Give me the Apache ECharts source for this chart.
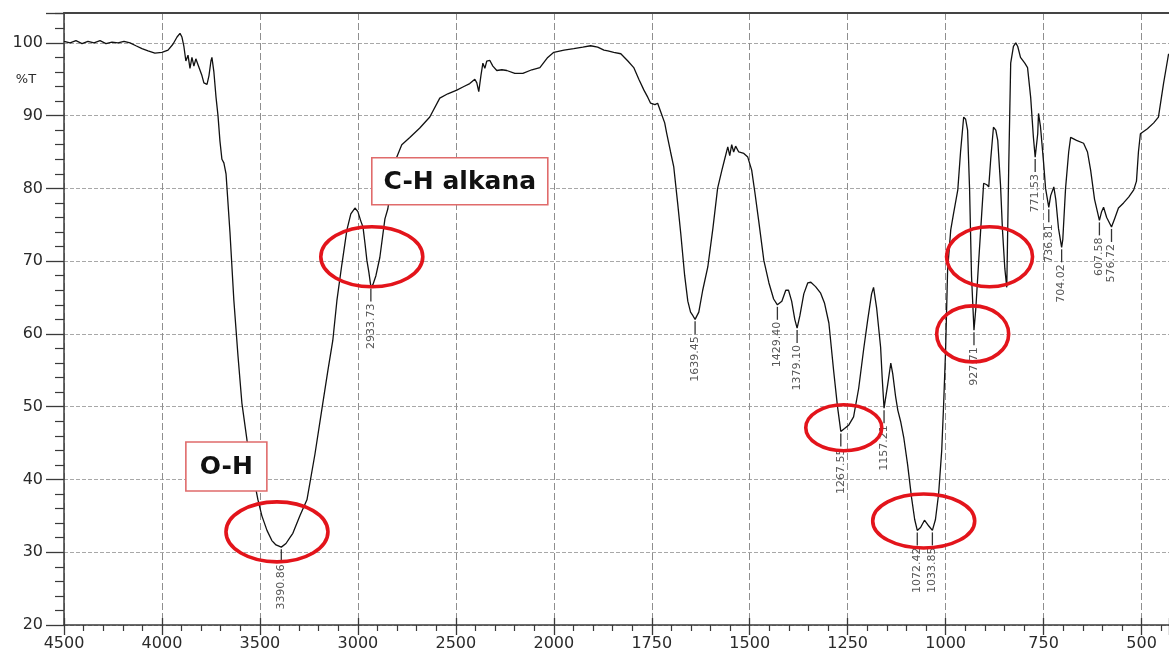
<!DOCTYPE html>
<html>
<head>
<meta charset="utf-8">
<script src="https://cdn.jsdelivr.net/npm/echarts@6/dist/echarts.min.js"></script>
<style>
  html, body { margin: 0; padding: 0; background: #fff; }
  #chart { width: 1169px; height: 653px; }
</style>
</head>
<body>
<div id="chart"></div>
<script>
// FTIR spectrum: wavenumber (cm-1) and transmittance (%T)
const wavenumbers = [
  4500, 4469, 4439, 4408, 4378, 4347, 4316, 4286, 4255, 4224, 4194, 4163, 4133, 4102, 4071, 4036,
  4000, 3969, 3944, 3923, 3908, 3898, 3888, 3878, 3867, 3857, 3847, 3837, 3827, 3816, 3806, 3796,
  3786, 3770, 3760, 3750, 3745, 3735, 3724, 3714, 3704, 3694, 3684, 3673, 3653, 3633, 3612, 3592,
  3566, 3541, 3510, 3490, 3464, 3439, 3418, 3390.86, 3367, 3347, 3332, 3296, 3260, 3219, 3179, 3153,
  3128, 3107, 3082, 3056, 3036, 3015, 3000, 2985, 2974, 2964, 2954, 2944, 2933.73, 2923, 2908, 2888,
  2862, 2847, 2827, 2806, 2776, 2735, 2684, 2633, 2582, 2541, 2495, 2459, 2429, 2403, 2393, 2383,
  2378, 2372, 2362, 2352, 2342, 2327, 2311, 2291, 2265, 2240, 2199, 2158, 2112, 2071, 2031, 2000,
  1974, 1949, 1926, 1906, 1888, 1872, 1862, 1847, 1829, 1811, 1796, 1783, 1770, 1760, 1753, 1742,
  1735, 1727, 1717, 1712, 1702, 1694, 1684, 1676, 1666, 1658, 1651, 1645, 1639.45, 1630, 1620, 1607,
  1594, 1582, 1571, 1564, 1556, 1551, 1546, 1541, 1536, 1528, 1515, 1505, 1495, 1487, 1477, 1464,
  1451, 1439, 1429.40, 1418, 1408, 1401, 1393, 1385, 1379.10, 1372, 1362, 1352, 1344, 1332, 1319, 1309,
  1298, 1286, 1276, 1267.55, 1258, 1247, 1235, 1222, 1209, 1199, 1189, 1184, 1176, 1166, 1162, 1157.21,
  1148, 1140, 1135, 1128, 1122, 1115, 1107, 1097, 1087, 1079, 1072.42, 1064, 1054, 1043, 1033.85, 1026,
  1018, 1010, 1005, 1000, 995, 987, 980, 969, 962, 954, 949, 944, 939, 934, 927.71, 923,
  916, 908, 903, 895, 890, 885, 878, 872, 867, 860, 855, 849, 844, 839, 834, 827,
  821, 816, 809, 798, 791, 783, 776, 771.53, 765, 763, 758, 750, 745, 736.81, 732, 724,
  719, 712, 704.02, 701, 694, 686, 681, 666, 648, 638, 630, 620, 607.58, 602, 597, 589,
  576.72, 569, 559, 546, 533, 520, 513, 508, 503, 485, 469, 457, 444, 431
];
const transmittance = [
  100.2, 100.0, 100.3, 99.9, 100.2, 100.0, 100.3, 99.9, 100.1, 100.0, 100.2, 100.0, 99.6, 99.2, 98.9, 98.6,
  98.7, 99.0, 99.8, 100.8, 101.3, 100.8, 99.5, 97.5, 98.3, 96.5, 98.0, 96.8, 97.8, 97.0, 96.8, 95.5,
  94.5, 94.3, 95.5, 97.5, 98.0, 96.0, 92.5, 90.0, 86.5, 84.0, 83.5, 82.0, 74.0, 64.6, 57.0, 50.5,
  45.4, 41.5, 37.2, 35.0, 33.0, 31.6, 31.0, 30.7, 31.2, 32.0, 32.6, 35.0, 37.2, 43.5, 50.5, 55.0,
  59.1, 64.6, 69.5, 74.3, 76.5, 77.3, 76.8, 75.5, 74.7, 72.5, 70.1, 68.5, 66.5, 66.8, 68.0, 70.5,
  75.8, 77.2, 81.0, 84.0, 86.0, 87.0, 88.3, 89.8, 92.4, 93.0, 93.5, 94.0, 94.4, 95.0, 94.5, 93.3,
  93.5, 95.5, 97.2, 96.5, 97.5, 97.6, 96.8, 96.2, 96.3, 96.2, 95.8, 95.8, 96.3, 96.6, 98.0, 98.7,
  99.0, 99.2, 99.4, 99.6, 99.4, 99.0, 98.9, 98.7, 98.5, 97.5, 96.6, 95.0, 93.5, 92.5, 91.7, 91.5,
  91.7, 90.5, 89.0, 87.6, 85.0, 83.0, 78.0, 73.8, 68.0, 64.5, 63.0, 62.5, 62.0, 63.0, 66.0, 69.2,
  74.5, 80.0, 82.5, 84.0, 85.7, 84.5, 86.0, 85.0, 85.8, 85.0, 84.8, 84.3, 82.5, 79.5, 75.5, 70.1,
  67.0, 64.8, 64.0, 64.5, 66.0, 66.0, 64.5, 62.0, 60.8, 62.5, 65.5, 67.0, 67.1, 66.5, 65.6, 64.2,
  61.5, 55.0, 50.0, 46.6, 47.0, 47.5, 48.6, 52.5, 58.0, 61.9, 65.5, 66.4, 63.5, 58.2, 54.0, 49.8,
  53.0, 56.0, 54.5, 51.5, 49.5, 48.0, 45.8, 42.0, 37.5, 34.5, 33.0, 33.4, 34.4, 33.6, 33.0, 34.5,
  38.0, 44.0, 50.5, 58.0, 68.8, 74.3, 76.5, 79.8, 85.0, 89.8, 89.5, 88.0, 80.0, 68.0, 60.5, 63.5,
  69.7, 76.5, 80.7, 80.5, 80.2, 84.0, 88.4, 88.0, 86.6, 80.5, 74.3, 69.0, 66.4, 83.0, 97.2, 99.5,
  100.0, 99.5, 98.0, 97.2, 96.6, 92.5, 87.0, 84.3, 87.5, 90.3, 88.5, 83.5, 80.0, 77.4, 79.0, 80.2,
  78.5, 74.5, 71.9, 73.0, 80.0, 85.0, 87.0, 86.6, 86.2, 85.0, 82.5, 78.5, 75.6, 76.8, 77.4, 76.0,
  74.7, 75.8, 77.3, 78.0, 78.8, 79.8, 81.0, 85.0, 87.5, 88.2, 89.0, 89.8, 94.4, 98.5
];

// Labelled band positions
const peakWavenumbers = [3390.86, 2933.73, 1639.45, 1429.40, 1379.10, 1267.55, 1157.21, 1072.42,
                         1033.85, 927.71, 771.53, 736.81, 704.02, 607.58, 576.72];
const peakTransmittance = [30.7, 66.5, 62.0, 64.0, 60.8, 46.6, 49.8, 33.0,
                           33.0, 60.5, 84.3, 77.4, 71.9, 75.6, 74.7];

// Axis tick labels (wavenumber scale halves its compression below 2000 cm-1)
const xTickLabels = ['4500', '4000', '3500', '3000', '2500', '2000', '1750', '1500', '1250', '1000', '750', '500'];

// Band assignment call-outs
const bandBoxes = [
  { text: 'C-H alkana', wn: 2929, t: 84.2 },
  { text: 'O-H', wn: 3878, t: 45.15 }
];
// Highlighted regions (centre in wavenumber / %T)
const bandRings = [
  { wn: 3413, t: 32.8 },
  { wn: 2929, t: 70.6 },
  { wn: 1260, t: 47.1 },
  { wn: 1056, t: 34.3 },
  { wn: 931, t: 60.0 },
  { wn: 888, t: 70.6 }
];

// Piecewise-linear wavenumber axis: 500 cm-1 per major step above 2000, 250 below
function toAxis(wn) {
  return wn >= 2000 ? 4500 - wn : 2500 + (2000 - wn) * 2;
}

const spectrum = wavenumbers.map((w, i) => [toAxis(w), transmittance[i]]);
const peaks = peakWavenumbers.map((w, i) => [toAxis(w), peakTransmittance[i]]);

const chart = echarts.init(document.getElementById('chart'), null, { renderer: 'canvas' });

const axisColor = '#3a3a3a';
const labelFont = 'DejaVu Sans';

const option = {
  backgroundColor: '#fff',
  animation: false,
  grid: { left: 64, right: 0, top: 13, bottom: 28, outerBoundsMode: 'none', containLabel: false },
  xAxis: [
    {
      type: 'value', position: 'bottom', min: 0, max: 5640, interval: 500,
      axisLine: { onZero: false, lineStyle: { color: axisColor, width: 1.5 } },
      axisTick: { show: true, inside: false, length: 10, lineStyle: { color: axisColor, width: 1.3 } },
      minorTick: { show: true, splitNumber: 5, length: 6, lineStyle: { color: axisColor, width: 1.2 } },
      axisLabel: {
        margin: 11, color: '#2a2a2a', fontSize: 16, fontFamily: labelFont,
        showMaxLabel: false,
        formatter: v => (v % 500 === 0 && xTickLabels[v / 500] !== undefined) ? xTickLabels[v / 500] : ''
      },
      splitLine: { show: true, lineStyle: { color: '#8f8f8f', width: 1, type: [7, 3] } },
      minorSplitLine: { show: false }
    },
    {
      type: 'value', position: 'bottom', min: 0, max: 5640, interval: 500,
      axisLine: { show: false, onZero: false },
      axisTick: { show: true, inside: true, length: 7, lineStyle: { color: axisColor, width: 1.3 } },
      axisLabel: { show: false },
      splitLine: { show: false }
    },
    {
      type: 'value', position: 'top', min: 0, max: 5640,
      axisLine: { show: true, onZero: false, lineStyle: { color: '#444', width: 2 } },
      axisTick: { show: false }, axisLabel: { show: false }, splitLine: { show: false }
    }
  ],
  yAxis: {
    type: 'value', min: 20, max: 104.1, interval: 10,
    axisLine: { show: true, onZero: false, lineStyle: { color: axisColor, width: 1.5 } },
    axisTick: { show: true, inside: false, length: 18, lineStyle: { color: axisColor, width: 1.3 } },
    minorTick: { show: true, splitNumber: 5, length: 9, lineStyle: { color: axisColor, width: 1.2 } },
    axisLabel: {
      margin: 21, color: '#2a2a2a', fontSize: 16, fontFamily: labelFont,
      showMaxLabel: false,
      formatter: v => (Math.abs(v % 10) < 1e-6) ? String(v) : ''
    },
    splitLine: { show: true, lineStyle: { color: '#a8a8a8', width: 1, type: [4, 2] } }
  },
  series: [
    {
      name: 'Spectrum', type: 'line', xAxisIndex: 0, data: spectrum,
      showSymbol: false, symbol: 'none', smooth: false,
      lineStyle: { color: '#111', width: 1.3 }, z: 3
    },
    {
      name: 'Peaks', type: 'custom', xAxisIndex: 0, data: peaks, z: 4,
      renderItem: function (params, api) {
        const p = api.coord([api.value(0), api.value(1)]);
        const txt = peakWavenumbers[params.dataIndex].toFixed(2);
        return {
          type: 'group',
          children: [
            { type: 'line', shape: { x1: p[0], y1: p[1] + 2, x2: p[0], y2: p[1] + 15 },
              style: { stroke: '#333', lineWidth: 1.3 } },
            { type: 'text', x: p[0], y: p[1] + 17, rotation: Math.PI / 2,
              style: { text: txt, fontSize: 11, fontFamily: labelFont, fill: '#555',
                       align: 'right', verticalAlign: 'middle' } }
          ]
        };
      }
    }
  ]
};

chart.setOption(option);

function toPx(wn, t) {
  return chart.convertToPixel({ xAxisIndex: 0, yAxisIndex: 0 }, [toAxis(wn), t]);
}

const graphics = [];
const ringSizes = [[51, 30], [51, 30], [38, 23], [51, 27], [36, 28], [43, 30]];
bandRings.forEach((r, i) => {
  const c = toPx(r.wn, r.t);
  graphics.push({
    type: 'ellipse', z: 100,
    shape: { cx: c[0], cy: c[1], rx: ringSizes[i][0], ry: ringSizes[i][1] },
    style: { fill: null, stroke: '#e3141b', lineWidth: 3.6 }
  });
});
const boxSizes = [[176, 47], [81, 49]];
bandBoxes.forEach((b, i) => {
  const p = toPx(b.wn, b.t);
  const w = boxSizes[i][0], h = boxSizes[i][1];
  graphics.push({
    type: 'rect', z: 101,
    shape: { x: p[0], y: p[1], width: w, height: h },
    style: { fill: '#fff', stroke: '#e06b6b', lineWidth: 1.6 }
  });
  graphics.push({
    type: 'text', z: 102,
    x: p[0] + w / 2, y: p[1] + h / 2 + 1,
    style: { text: b.text, fill: '#111', fontSize: 25, fontWeight: 'bold', fontFamily: 'DejaVu Sans',
             align: 'center', verticalAlign: 'middle' }
  });
});
// %T axis caption beside the 95 % level
const tPos = toPx(4500, 95);
graphics.push({
  type: 'text', z: 102, x: tPos[0] - 38, y: tPos[1],
  style: { text: '%T', fill: '#2a2a2a', fontSize: 13, fontFamily: labelFont, align: 'center', verticalAlign: 'middle' }
});

chart.setOption({ graphic: graphics });
</script>
</body>
</html>
